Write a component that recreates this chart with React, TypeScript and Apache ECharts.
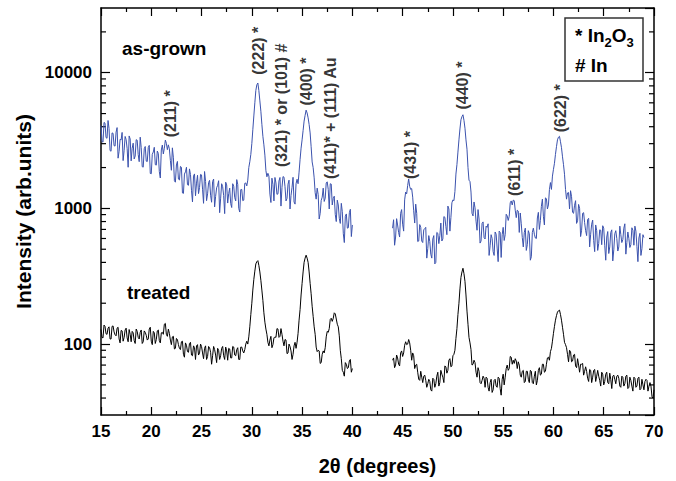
import React, { useEffect, useRef } from "react";
import * as echarts from "echarts";

// ---- data (2θ grid step in degrees) ----
const STEP = 0.1;
const X_MIN = 15;
const X_MAX = 70;

const asGrownLowStart = 15.0;
const asGrownLow = [
  4070, 3110, 3080, 4300, 4250, 3325, 3290, 4445, 3890, 2670,
  2640, 3600, 3575, 2900, 2880, 3650, 3940, 2345, 2635, 3230,
  3200, 3630, 2250, 2680, 3390, 3215, 2755, 2010, 3420, 3250,
  2240, 2775, 3025, 2315, 2430, 3210, 3180, 2495, 2210, 3350,
  2805, 2030, 2015, 2755, 2860, 2230, 2215, 2810, 2915, 1810,
  1800, 2505, 2605, 2820, 2100, 2085, 2645, 2545, 1865, 1675,
  2695, 2930, 2520, 2775, 3190, 3020, 2710, 2940, 2750, 2255,
  1910, 2795, 2360, 1600, 1560, 2090, 2220, 1645, 1620, 2040,
  2010, 1300, 1290, 1790, 1860, 2010, 1495, 1480, 1955, 1775,
  1360, 1115, 1730, 1795, 1240, 1535, 1755, 1285, 1425, 1780,
  1765, 1385, 1090, 1870, 1580, 1140, 1280, 1550, 1610, 1250,
  1110, 1580, 1645, 1025, 1225, 1420, 1480, 1600, 930, 1190,
  1520, 1445, 1245, 915, 1560, 1490, 1095, 1285, 1410, 1085,
  1015, 1520, 1455, 1200, 1135, 1630, 1505, 1000, 940, 1375,
  1380, 1140, 1150, 1530, 1540, 1465, 1615, 2000, 2205, 2500,
  3000, 3800, 4800, 6000, 7400, 8150, 8400, 7400, 6200, 5200,
  4170, 3400, 2940, 2470, 1900, 1710, 1815, 1730, 1275, 1105,
  1670, 1505, 1135, 1690, 1540, 1270, 1280, 1590, 1690, 1040,
  1425, 1715, 1700, 1450, 1135, 1185, 1505, 1615, 990, 1245,
  1430, 1695, 1115, 1075, 1520, 1640, 1520, 1850, 2300, 2780,
  3200, 3750, 4400, 4850, 5300, 5050, 4650, 4150, 3600, 2850,
  2200, 2000, 1680, 1305, 1170, 1410, 1265, 835, 920, 1145,
  1210, 1410, 1125, 1190, 1540, 1570, 1380, 990, 1520, 1510,
  1060, 1185, 1230, 900, 800, 1150, 1060, 845, 775, 1090,
  945, 650, 560, 875, 910, 715, 720, 930, 985, 620,
  755,
];

const asGrownHighStart = 44.0;
const asGrownHigh = [
  715, 825, 535, 615, 840, 755, 665, 615, 920, 980,
  765, 680, 1155, 1320, 1280, 1475, 1650, 1450, 1380, 1400,
  1210, 960, 780, 1075, 920, 570, 575, 760, 725, 575,
  560, 695, 710, 725, 430, 505, 630, 570, 460, 430,
  595, 630, 390, 400, 665, 655, 550, 630, 780, 575,
  595, 870, 860, 735, 640, 1040, 990, 680, 855, 1100,
  1155, 1140, 1330, 1790, 2100, 2600, 3200, 3850, 4500, 4750,
  4900, 4450, 3900, 3200, 2730, 2000, 1615, 1575, 1320, 920,
  880, 1115, 1010, 805, 690, 980, 835, 555, 575, 775,
  795, 610, 595, 740, 725, 770, 450, 530, 640, 600,
  480, 450, 670, 645, 510, 405, 680, 665, 435, 640,
  725, 580, 640, 905, 880, 815, 875, 1100, 1135, 1060,
  1150, 1140, 970, 855, 970, 955, 665, 925, 770, 610,
  520, 665, 715, 490, 540, 685, 650, 415, 440, 665,
  715, 645, 605, 600, 850, 935, 700, 815, 1035, 1170,
  875, 755, 1195, 1180, 990, 1060, 1375, 1550, 1380, 1730,
  1940, 2150, 2500, 2850, 3200, 3350, 3400, 3100, 2800, 2400,
  2100, 1785, 1380, 1170, 1300, 1310, 990, 1350, 1220, 935,
  920, 1055, 1140, 775, 810, 1070, 1000, 620, 690, 920,
  930, 785, 685, 630, 830, 845, 520, 645, 765, 820,
  580, 480, 755, 685, 490, 550, 695, 690, 540, 745,
  715, 535, 415, 615, 675, 465, 520, 665, 695, 410,
  495, 650, 685, 600, 485, 520, 740, 640, 560, 590,
  715, 770, 460, 560, 670, 600, 515, 540, 720, 690,
  535, 740, 680, 525, 405, 605, 655, 450, 505, 640,
  610,
];

const treatedLowStart = 15.0;
const treatedLow = [
  128, 112, 111, 138, 135, 119, 118, 131, 134, 109,
  109, 135, 136, 123, 117, 115, 131, 133, 109, 102,
  126, 125, 105, 112, 127, 131, 111, 104, 128, 118,
  104, 124, 121, 106, 101, 129, 124, 112, 109, 122,
  127, 101, 104, 125, 122, 116, 107, 109, 129, 133,
  105, 99, 124, 121, 101, 108, 125, 127, 106, 102,
  121, 122, 118, 140, 142, 118, 114, 129, 120, 107,
  99, 113, 114, 92, 93, 110, 108, 99, 93, 91,
  104, 105, 84, 80, 102, 98, 88, 87, 101, 103,
  83, 82, 97, 94, 77, 97, 99, 83, 86, 100,
  96, 86, 78, 93, 97, 77, 81, 96, 94, 87,
  71, 82, 96, 91, 83, 73, 93, 90, 77, 82,
  93, 96, 82, 77, 95, 89, 76, 93, 92, 79,
  79, 96, 95, 83, 82, 91, 94, 77, 77, 95,
  95, 89, 86, 91, 100, 105, 100, 113, 134, 165,
  200, 250, 300, 345, 390, 405, 412, 380, 340, 295,
  250, 210, 170, 145, 129, 118, 103, 97, 107, 114,
  94, 99, 111, 113, 112, 130, 129, 112, 114, 130,
  118, 105, 97, 108, 107, 85, 86, 100, 96, 89,
  77, 84, 97, 103, 93, 103, 120, 150, 180, 230,
  280, 340, 400, 430, 452, 430, 400, 340, 280, 235,
  190, 160, 134, 118, 95, 88, 90, 89, 72, 73,
  84, 89, 86, 94, 113, 124, 122, 130, 152, 155,
  147, 155, 170, 167, 153, 140, 134, 115, 90, 78,
  64, 62, 58, 73, 71, 66, 67, 75, 77, 62,
  66,
];

const treatedHighStart = 44.0;
const treatedHigh = [
  76, 79, 67, 70, 83, 79, 71, 69, 86, 89,
  81, 86, 98, 104, 99, 100, 108, 102, 90, 76,
  86, 82, 66, 70, 71, 62, 55, 54, 63, 57,
  52, 58, 59, 54, 48, 51, 55, 53, 46, 45,
  56, 55, 48, 51, 58, 62, 49, 52, 64, 60,
  57, 52, 69, 68, 61, 64, 76, 78, 68, 69,
  82, 84, 90, 110, 130, 165, 200, 255, 310, 340,
  362, 330, 290, 230, 175, 140, 112, 102, 91, 70,
  71, 76, 73, 62, 57, 67, 63, 52, 51, 54,
  58, 56, 48, 57, 56, 48, 45, 52, 55, 44,
  46, 54, 55, 49, 48, 57, 56, 47, 42, 55,
  60, 50, 57, 66, 70, 64, 66, 81, 80, 71,
  76, 72, 78, 75, 66, 74, 70, 59, 57, 63,
  64, 52, 53, 63, 63, 55, 52, 64, 63, 52,
  51, 58, 63, 50, 54, 64, 67, 59, 60, 71,
  71, 62, 63, 71, 79, 80, 76, 88, 93, 105,
  120, 135, 150, 162, 172, 176, 178, 165, 150, 133,
  118, 103, 99, 94, 84, 74, 90, 88, 74, 75,
  83, 84, 69, 67, 78, 70, 62, 71, 71, 72,
  59, 63, 68, 63, 56, 53, 65, 64, 52, 57,
  64, 65, 53, 58, 64, 58, 54, 49, 62, 60,
  50, 53, 60, 62, 52, 51, 61, 55, 47, 58,
  59, 55, 51, 58, 59, 56, 49, 48, 58, 57,
  49, 51, 58, 59, 47, 48, 57, 54, 49, 45,
  57, 56, 48, 49, 56, 57, 46, 47, 55, 50,
  46, 53, 55, 54, 45, 49, 52, 49, 41, 40,
  46,
];

const yMinorTicks = [
  40, 50, 60, 70, 80, 90,
  200, 300, 400, 500, 600, 700, 800, 900,
  2000, 3000, 4000, 5000, 6000, 7000, 8000, 9000,
  20000,
];

const peakLabels = [
  "(211) *",
  "(222) *",
  "(321) * or (101) #",
  "(400) *",
  "(411)* + (111) Au",
  "(431) *",
  "(440) *",
  "(611) *",
  "(622) *",
];
const peakLabelX = [21.87, 30.62, 33.0, 35.4, 37.8, 45.75, 51.0, 56.1, 60.67];
const peakLabelY = [3340, 9670, 2015, 5730, 1645, 1645, 5355, 1236, 3636];

const FONT = "'Liberation Sans', Arial, Helvetica, sans-serif";
const BLUE = "#3b52ad";

function toPairs(start: number, values: number[]) {
  return values.map((v, i) => [Math.round((start + i * STEP) * 100) / 100, v]);
}

export default function App() {
  const ref = useRef<HTMLDivElement>(null);

  useEffect(() => {
    if (!ref.current) return;
    const chart = echarts.init(ref.current, undefined, { renderer: "svg" });

    const axisLine = { show: true, onZero: false, lineStyle: { color: "#000", width: 1.5 } };
    const tickStyle = { color: "#000", width: 1.2 };

    const yBase: any = {
      type: "log",
      logBase: 10,
      min: 30,
      max: 30000,
      axisLine,
      splitLine: { show: false },
      axisTick: { show: true, inside: true, length: 9, lineStyle: tickStyle },
    };
    const xBase: any = {
      type: "value",
      min: X_MIN,
      max: X_MAX,
      interval: 5,
      axisLine,
      splitLine: { show: false },
      axisTick: { show: true, inside: true, length: 8, lineStyle: tickStyle },
      minorTick: { show: true, splitNumber: 2, length: 4, lineStyle: tickStyle },
      minorSplitLine: { show: false },
    };

    const lineSeries = (data: number[][], color: string) => ({
      type: "line",
      data,
      xAxisIndex: 0,
      yAxisIndex: 0,
      showSymbol: false,
      symbol: "none",
      silent: true,
      lineStyle: { color, width: 1 },
      emphasis: { disabled: true },
    });

    chart.setOption({
      animation: false,
      backgroundColor: "#fff",
      grid: { left: 101, right: 22, top: 8, bottom: 65, containLabel: false },
      xAxis: [
        {
          ...xBase,
          position: "bottom",
          axisLabel: {
            color: "#000",
            fontSize: 17,
            fontWeight: "bold",
            fontFamily: FONT,
            margin: 8,
          },
          name: "2θ (degrees)",
          nameLocation: "middle",
          nameGap: 41,
          nameTextStyle: { color: "#000", fontSize: 20, fontWeight: "bold", fontFamily: FONT },
        },
        {
          ...xBase,
          position: "top",
          axisLabel: { show: false },
        },
      ],
      yAxis: [
        {
          ...yBase,
          position: "left",
          axisLabel: {
            color: "#000",
            fontSize: 17,
            fontWeight: "bold",
            fontFamily: FONT,
            margin: 9,
            showMinLabel: false,
            showMaxLabel: false,
            formatter: (v: number) => String(Math.round(v)),
          },
          name: "Intensity (arb.units)",
          nameLocation: "middle",
          nameGap: 67,
          nameTextStyle: { color: "#000", fontSize: 21, fontWeight: "bold", fontFamily: FONT },
        },
        {
          ...yBase,
          position: "right",
          axisLabel: { show: false },
        },
      ],
      series: [
        lineSeries(toPairs(treatedLowStart, treatedLow), "#000"),
        lineSeries(toPairs(treatedHighStart, treatedHigh), "#000"),
        lineSeries(toPairs(asGrownLowStart, asGrownLow), BLUE),
        lineSeries(toPairs(asGrownHighStart, asGrownHigh), BLUE),
        {
          type: "custom",
          xAxisIndex: 0,
          yAxisIndex: 0,
          silent: true,
          clip: false,
          data: yMinorTicks.map((v) => [X_MIN, v]),
          renderItem: (_params: any, api: any) => {
            const v = api.value(1);
            const l = api.coord([X_MIN, v]);
            const r = api.coord([X_MAX, v]);
            const st = { stroke: "#000", lineWidth: 1.2 };
            return {
              type: "group",
              children: [
                { type: "line", shape: { x1: l[0], y1: l[1], x2: l[0] + 5, y2: l[1] }, style: st },
                { type: "line", shape: { x1: r[0], y1: r[1], x2: r[0] - 5, y2: r[1] }, style: st },
              ],
            };
          },
        },
        {
          type: "scatter",
          xAxisIndex: 0,
          yAxisIndex: 0,
          silent: true,
          symbolSize: 1,
          itemStyle: { color: "rgba(0,0,0,0)" },
          data: peakLabels.map((t, i) => ({ name: t, value: [peakLabelX[i], peakLabelY[i]] })),
          label: {
            show: true,
            formatter: "{b}",
            rotate: 90,
            position: "inside",
            align: "left",
            verticalAlign: "middle",
            color: "#000",
            fontSize: 16,
            fontWeight: "bold",
            fontFamily: FONT,
          },
          emphasis: { disabled: true },
        },
      ],
      graphic: [
        {
          type: "text",
          x: 122,
          y: 48,
          style: {
            text: "as-grown",
            fill: "#000",
            fontSize: 19,
            fontWeight: "bold",
            fontFamily: FONT,
            align: "left",
            verticalAlign: "middle",
          },
        },
        {
          type: "text",
          x: 127,
          y: 292,
          style: {
            text: "treated",
            fill: "#000",
            fontSize: 19,
            fontWeight: "bold",
            fontFamily: FONT,
            align: "left",
            verticalAlign: "middle",
          },
        },
        {
          type: "rect",
          shape: { x: 565, y: 18, width: 78, height: 63 },
          style: { fill: "#fff", stroke: "#333", lineWidth: 1.5 },
        },
        {
          type: "text",
          x: 575,
          y: 35,
          style: {
            text: "{t|* In}{s|2}{t|O}{s|3}",
            align: "left",
            verticalAlign: "middle",
            rich: {
              t: { fontSize: 19, fontWeight: "bold", fontFamily: FONT, fill: "#000", lineHeight: 30 },
              s: {
                fontSize: 13,
                fontWeight: "bold",
                fontFamily: FONT,
                fill: "#000",
                lineHeight: 30,
                padding: [14, 0, 0, 0],
              },
            },
          },
        },
        {
          type: "text",
          x: 575,
          y: 65,
          style: {
            text: "# In",
            fill: "#000",
            fontSize: 19,
            fontWeight: "bold",
            fontFamily: FONT,
            align: "left",
            verticalAlign: "middle",
          },
        },
      ],
    });

    return () => chart.dispose();
  }, []);

  return (
    <div
      ref={ref}
      style={{ position: "fixed", left: 0, top: 0, width: 676, height: 481, background: "#fff" }}
    />
  );
}
